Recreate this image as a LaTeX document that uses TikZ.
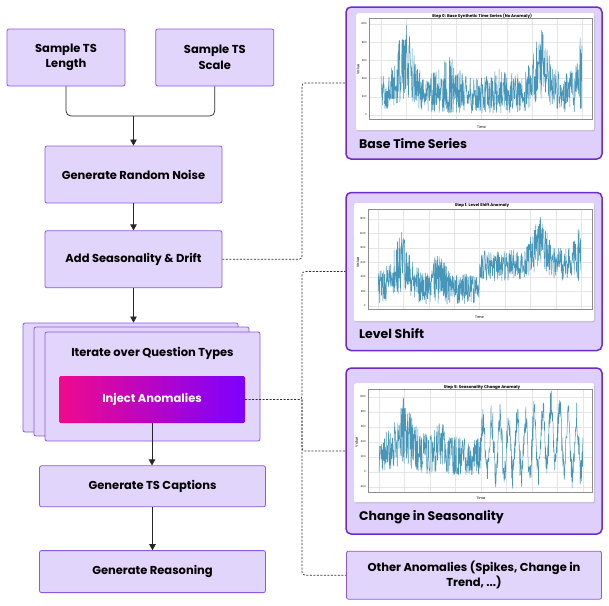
\documentclass[tikz,border=0pt]{standalone}
\usepackage{fontspec}
\setmainfont{Poppins}
\usetikzlibrary{arrows.meta, positioning, shadows}
\definecolor{boxfill}{RGB}{226,213,252}
\definecolor{boxborder}{RGB}{141,88,232}
\definecolor{panelfill}{RGB}{223,207,252}
\definecolor{paneldraw}{RGB}{108,42,208}
\definecolor{injpink}{RGB}{240,10,140}
\definecolor{injmid}{RGB}{165,0,215}
\definecolor{injviolet}{RGB}{125,0,255}
\definecolor{tsblue}{RGB}{70,150,186}
\definecolor{linkgray}{RGB}{45,45,45}
\tikzset{
  stepbox/.style={
    draw=boxborder, fill=boxfill, line width=0.8pt,
    rounded corners=2pt, align=center, inner sep=0pt,
    font=\fontsize{11.5}{15.5}\selectfont\bfseries
  },
  injectbox/.style={
    rounded corners=1.5pt, left color=injpink, middle color=injmid,
    right color=injviolet, text=white, minimum width=186,
    minimum height=47, font=\fontsize{11.5}{14}\selectfont\bfseries
  },
  panelbox/.style={
    draw=paneldraw, fill=panelfill, line width=1.5pt,
    rounded corners=5pt
  },
  plotcard/.style={
    fill=white, rounded corners=2pt, anchor=north west,
    drop shadow={shadow xshift=0.8pt, shadow yshift=-1.2pt, opacity=0.3}
  },
  paneltitle/.style={
    anchor=west, inner sep=0pt,
    font=\fontsize{12.5}{15}\selectfont\bfseries
  },
  plottitle/.style={font=\fontsize{4}{4}\selectfont\bfseries, inner sep=0pt},
  ticklabel/.style={font=\fontsize{2.6}{3}\selectfont, inner sep=0pt, anchor=east},
  axislabel/.style={font=\fontsize{3.6}{4}\selectfont, inner sep=0pt},
  gridline/.style={draw=black!10, line width=0.25pt},
  axesframe/.style={draw=black!45, line width=0.35pt},
  tsline/.style={draw=tsblue, line width=0.5pt, line join=round},
  flowline/.style={draw=black!85, line width=0.7pt},
  flowarrow/.style={
    -{Triangle[length=6pt,width=6.5pt]},
    draw=black!85, line width=0.7pt
  },
  dashlink/.style={
    draw=linkgray, dash pattern=on 2pt off 1.5pt,
    line width=0.7pt, rounded corners=3pt
  },
}

\begin{document}
\begin{tikzpicture}[x=1pt, y=1pt,
  declare function={bump(\t,\c,\w)=1/(1+((\t-\c)/\w)*((\t-\c)/\w))/(1+((\t-\c)/\w)*((\t-\c)/\w));}]
  \useasboundingbox (0,0) rectangle (609,-605);

  %% Sampling and base generation
  \node[stepbox, minimum width=118, minimum height=57] (tslen) at (66,-57.5)
    {Sample TS\\Length};
  \node[stepbox, minimum width=118, minimum height=57, right=30pt of tslen] (tsscale)
    {Sample TS\\Scale};
  \node[stepbox, minimum width=177, minimum height=57] (noise) at (133.5,-174.5)
    {Generate Random Noise};
  \node[stepbox, minimum width=177, minimum height=57, below=27pt of noise] (drift)
    {Add Seasonality \& Drift};

  \coordinate (merge) at (133.5,-116);
  \draw[flowline, rounded corners=5pt] (tslen.south) |- (merge);
  \draw[flowline, rounded corners=5pt] (tsscale.south) |- (merge);
  \draw[flowarrow] (merge) -- (noise.north);
  \draw[flowarrow] (noise.south) -- (drift.north);

  %% Stacked loop over question types
  \node[stepbox, minimum width=215, minimum height=109] (iterback2) at (130.5,-377.5) {};
  \node[stepbox, minimum width=215, minimum height=109] (iterback1) at (141.5,-381.5) {};
  \node[stepbox, minimum width=215, minimum height=109] (iter) at (152.5,-386.5) {};
  \node[font=\fontsize{11.5}{14}\selectfont\bfseries] (itertitle) at (152.5,-353)
    {Iterate over Question Types};
  \node[injectbox] (inject) at (152,-399.5) {Inject Anomalies};
  \draw[flowarrow] (drift.south) -- (drift.south |- iterback2.north);

  %% Captions and reasoning
  \node[stepbox, minimum width=226, minimum height=41, below=24pt of iter] (captions)
    {Generate TS Captions};
  \node[stepbox, minimum width=226, minimum height=42, below=43pt of captions] (reasoning)
    {Generate Reasoning};
  \draw[flowarrow] (inject.south) -- (inject.south |- captions.north);
  \draw[flowarrow] (captions.south) -- (reasoning.north);

  %% Example panels
  \node[panelbox, minimum width=256, minimum height=152] (base) at (474,-83) {};
  \node[panelbox, minimum width=256, minimum height=158, below=32pt of base] (level) {};
  \node[panelbox, minimum width=256, minimum height=166, below=16pt of level] (season) {};
  \node[stepbox, minimum width=255, minimum height=48, below=16pt of season,
        font=\fontsize{11.5}{14.5}\selectfont\bfseries] (other)
    {Other Anomalies (Spikes, Change in\\Trend, ...)};

  \node[paneltitle] (basetitle) at (359,-144) {Base Time Series};
  \node[paneltitle] (leveltitle) at (359,-334) {Level Shift};
  \node[paneltitle] (seasontitle) at (359,-517) {Change in Seasonality};

  %% Base series plot
  \node[plotcard, minimum width=238, minimum height=117] (baseplot) at (356,-13) {};
  \node[plottitle] at (482,-16) {Step 0: Base Synthetic Time Series (No Anomaly)};
  \begin{scope}[shift={(381pt,-115pt)}, x=201pt, y=0.091pt]
    \foreach \t in {0,0.125,...,1} \draw[gridline] (\t,-45) -- (\t,1060);
    \foreach \v in {0,200,...,1000} {
      \draw[gridline] (-0.06,\v) -- (1.05,\v);
      \node[ticklabel] at (-0.07,\v) {\v};
    }
    \pgfmathsetseed{11}
    \draw[tsline] plot[samples=700, domain=0:1] (\x,
      {20+150*bump(\x,0.12,0.08)+150*bump(\x,0.8,0.06)
       +(400+450*bump(\x,0.12,0.06)+220*bump(\x,0.34,0.06)+120*bump(\x,0.6,0.05)
         +400*bump(\x,0.79,0.06)+550*bump(\x,1,0.04))*rnd});
    \draw[axesframe] (-0.06,-45) rectangle (1.05,1060);
    \node[axislabel] at (0.5,-132) {Time};
    \node[axislabel, rotate=90] at (-0.114,500) {Value};
  \end{scope}

  %% Level shift plot
  \node[plotcard, minimum width=240, minimum height=118] (levelplot) at (354,-203) {};
  \node[plottitle] at (482,-205) {Step 1: Level Shift Anomaly};
  \begin{scope}[shift={(378pt,-306pt)}, x=203pt, y=0.0725pt]
    \foreach \t in {0,0.125,...,1} \draw[gridline] (\t,-41) -- (\t,1338);
    \foreach \v in {0,200,...,1200} {
      \draw[gridline] (-0.05,\v) -- (1.054,\v);
      \node[ticklabel] at (-0.06,\v) {\v};
    }
    \pgfmathsetseed{23}
    \draw[tsline] plot[samples=700, domain=0:1] (\x,
      {20+150*bump(\x,0.1,0.07)+(\x>0.5)*(320+150*bump(\x,0.8,0.07))
       +((\x<=0.5)*(420+450*bump(\x,0.12,0.06)+300*bump(\x,0.3,0.05))
         +(\x>0.5)*(420+320*bump(\x,0.8,0.06)+450*bump(\x,1,0.04)))*rnd});
    \draw[axesframe] (-0.05,-41) rectangle (1.054,1338);
    \node[axislabel] at (0.5,-150) {Time};
    \node[axislabel, rotate=90] at (-0.1,600) {Value};
  \end{scope}

  %% Seasonality change plot
  \node[plotcard, minimum width=240, minimum height=119] (seasonplot) at (354,-383) {};
  \node[plottitle] at (482,-387) {Step 5: Seasonality Change Anomaly};
  \begin{scope}[shift={(379pt,-472pt)}, x=204pt, y=0.075pt]
    \foreach \t in {0,0.125,...,1} \draw[gridline] (\t,-267) -- (\t,1107);
    \foreach \v in {-200,0,...,1000} {
      \draw[gridline] (-0.054,\v) -- (1.044,\v);
      \node[ticklabel] at (-0.064,\v) {\v};
    }
    \pgfmathsetseed{5}
    \draw[tsline] plot[samples=700, domain=0:1] (\x,
      {(\x<0.5)*(-40+150*bump(\x,0.12,0.07)
         +(500+450*bump(\x,0.12,0.06)+200*bump(\x,0.3,0.05))*rnd)
       +(\x>=0.5)*(330+380*sin(8640*\x)+420*(rnd-0.5)+200*bump(\x,0.85,0.08))});
    \draw[axesframe] (-0.054,-267) rectangle (1.044,1107);
    \node[axislabel] at (0.5,-347) {Time};
    \node[axislabel, rotate=90] at (-0.11,400) {Value};
  \end{scope}

  %% Dashed links to examples
  \coordinate (bus) at (302,0);
  \draw[dashlink] (drift.east) -- (drift.east -| bus) |- (base.west);
  \draw[dashlink] (inject.east) -- (inject.east -| bus) |- (level.west);
  \draw[dashlink] (inject.east -| bus) |- (season.west);
  \draw[dashlink] (inject.east -| bus) |- (other.west);

\end{tikzpicture}
\end{document}
